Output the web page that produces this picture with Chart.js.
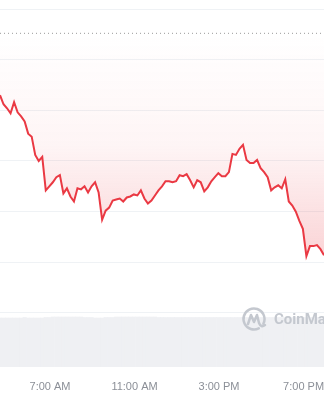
<!DOCTYPE html>
<html>
<head>
<meta charset="utf-8">
<script src="https://cdn.jsdelivr.net/npm/chart.js@4.4.1/dist/chart.umd.min.js"></script>
<style>
  html, body { margin: 0; padding: 0; background: #ffffff; }
  #wrap { width: 324px; height: 400px; }
</style>
</head>
<body>
<div id="wrap"><canvas id="price-chart" width="324" height="400"></canvas></div>
<script>
// 10분 간격 가격 데이터 (4:38 AM 부터)
const startMinute = 278;
const stepMinutes = 10;

const prices = [
    2915, 2906, 2902, 2897, 2908, 2898, 2894, 2889, 2877, 2874,
    2856, 2850, 2854, 2821, 2825, 2829, 2834, 2836, 2818, 2823,
    2815, 2810, 2823, 2822, 2825, 2819, 2825, 2829, 2819, 2792,
    2801, 2804, 2811, 2812, 2813, 2810, 2814, 2815, 2817, 2816,
    2821, 2813, 2808, 2811, 2816, 2821, 2825, 2830, 2830, 2829,
    2830, 2836, 2835, 2837, 2831, 2824, 2831, 2829, 2820, 2824,
    2830, 2834, 2838, 2835, 2835, 2839, 2857, 2856, 2862, 2866,
    2851, 2848, 2848, 2851, 2843, 2839, 2834, 2821, 2824, 2826,
    2823, 2832, 2810, 2806, 2800, 2791, 2783, 2756, 2766, 2766,
    2767, 2763, 2757
];

// 거래량 (하단 회색 막대)
const volumes = [
    98, 98, 98, 98, 98, 98, 98, 99, 98, 98,
    98, 98, 98, 99, 99, 100, 100, 100, 100, 100,
    100, 100, 100, 100, 99, 99, 99, 98, 98, 98,
    99, 99, 99, 100, 100, 100, 100, 100, 100, 100,
    100, 100, 100, 100, 100, 99, 99, 99, 99, 99,
    99, 99, 99, 99, 99, 99, 99, 99, 99, 99,
    99, 99, 99, 99, 99, 99, 99, 99, 99, 99,
    99, 99, 99, 99, 99, 99, 99, 99, 99, 99,
    99, 99, 99, 99, 99, 99, 99, 99, 99, 99,
    99, 99, 99
];
const volumeMax = 716;

const prevClose = 2976;
const priceTicks = [2700, 2750, 2800, 2850, 2900, 2950, 3000];
const priceMin = 2646.7;
const priceMax = 3000;

const tickMinutes = [420, 660, 900, 1140];
const tickLabels = ["7:00 AM", "11:00 AM", "3:00 PM", "7:00 PM"];

const times = prices.map((_, i) => startMinute + i * stepMinutes);
const pricePoints = prices.map((p, i) => ({ x: times[i], y: p }));
const volumePoints = volumes.map((v, i) => ({ x: times[i], y: v }));
const prevClosePoints = [
    { x: times[0], y: prevClose },
    { x: times[times.length - 1], y: prevClose }
];

// 워터마크 (CoinMarketCap 로고)
const watermark = {
    id: "watermark",
    afterDatasetsDraw(chart) {
        const { ctx, chartArea } = chart;
        const cx = chartArea.right - 70;
        const cy = chartArea.bottom - 48;
        ctx.save();
        ctx.strokeStyle = "#c4c8cf";
        ctx.fillStyle = "#c4c8cf";
        ctx.lineWidth = 2.5;
        ctx.lineJoin = "round";
        ctx.lineCap = "round";
        ctx.beginPath();
        ctx.arc(cx, cy, 10.5, Math.PI * 0.35, Math.PI * 2.15);
        ctx.stroke();
        ctx.beginPath();
        ctx.moveTo(cx - 6, cy + 5);
        ctx.lineTo(cx - 3, cy - 4);
        ctx.lineTo(cx, cy + 3);
        ctx.lineTo(cx + 3, cy - 4);
        ctx.lineTo(cx + 5, cy + 4);
        ctx.quadraticCurveTo(cx + 7, cy + 9, cx + 11, cy + 6);
        ctx.stroke();
        ctx.font = "bold 15px Roboto, 'Liberation Sans', Arial, sans-serif";
        ctx.textBaseline = "middle";
        ctx.fillText("CoinMarketCap", cx + 20, cy + 1);
        ctx.restore();
    }
};

const ctx = document.getElementById("price-chart").getContext("2d");

new Chart(ctx, {
    type: "line",
    data: {
        datasets: [
            {
                label: "price",
                data: pricePoints,
                borderColor: "#ea3943",
                borderWidth: 2,
                pointRadius: 0,
                tension: 0,
                fill: { value: prevClose },
                backgroundColor: (context) => {
                    const { chart } = context;
                    const { chartArea, scales } = chart;
                    if (!chartArea) return "rgba(234, 57, 67, 0.05)";
                    const top = scales.y.getPixelForValue(prevClose);
                    const bottom = scales.y.getPixelForValue(priceTicks[0]);
                    const g = chart.ctx.createLinearGradient(0, top, 0, bottom);
                    g.addColorStop(0, "rgba(234, 57, 67, 0)");
                    g.addColorStop(0.4, "rgba(234, 57, 67, 0.05)");
                    g.addColorStop(1, "rgba(234, 57, 67, 0.3)");
                    return g;
                },
                order: 1
            },
            {
                label: "prev close",
                data: prevClosePoints,
                borderColor: "#9a9a9a",
                borderWidth: 1,
                borderDash: [1, 3],
                pointRadius: 0,
                fill: false,
                order: 2
            },
            {
                type: "bar",
                label: "volume",
                data: volumePoints,
                yAxisID: "y2",
                backgroundColor: "#eff0f3",
                borderWidth: 0,
                barPercentage: 1,
                categoryPercentage: 1,
                order: 3
            }
        ]
    },
    options: {
        responsive: false,
        animation: false,
        layout: { padding: { top: 9, left: 0, right: 0, bottom: 0 } },
        plugins: {
            legend: { display: false },
            tooltip: { enabled: false }
        },
        scales: {
            x: {
                type: "linear",
                min: times[0],
                max: times[times.length - 1],
                offset: false,
                grid: { display: false },
                border: { display: false },
                afterBuildTicks: (scale) => {
                    scale.ticks = tickMinutes.map((v) => ({ value: v }));
                },
                afterFit: (scale) => {
                    scale.height = 33;
                    scale.paddingLeft = 0;
                    scale.paddingRight = 0;
                },
                ticks: {
                    autoSkip: false,
                    maxRotation: 0,
                    padding: 5,
                    color: "#8b8f97",
                    font: { family: "'Liberation Sans', Arial, sans-serif", size: 11 },
                    callback: (value, index) => tickLabels[index]
                }
            },
            y: {
                min: priceMin,
                max: priceMax,
                afterBuildTicks: (scale) => {
                    scale.ticks = priceTicks.map((v) => ({ value: v }));
                },
                afterFit: (scale) => {
                    scale.width = 0;
                    scale.paddingTop = 0;
                    scale.paddingBottom = 0;
                },
                grid: { color: "#eff2f5", lineWidth: 1, drawTicks: false },
                border: { display: false },
                ticks: { display: false }
            },
            y2: {
                display: false,
                min: 0,
                max: volumeMax
            }
        }
    },
    plugins: [watermark]
});
</script>
</body>
</html>
